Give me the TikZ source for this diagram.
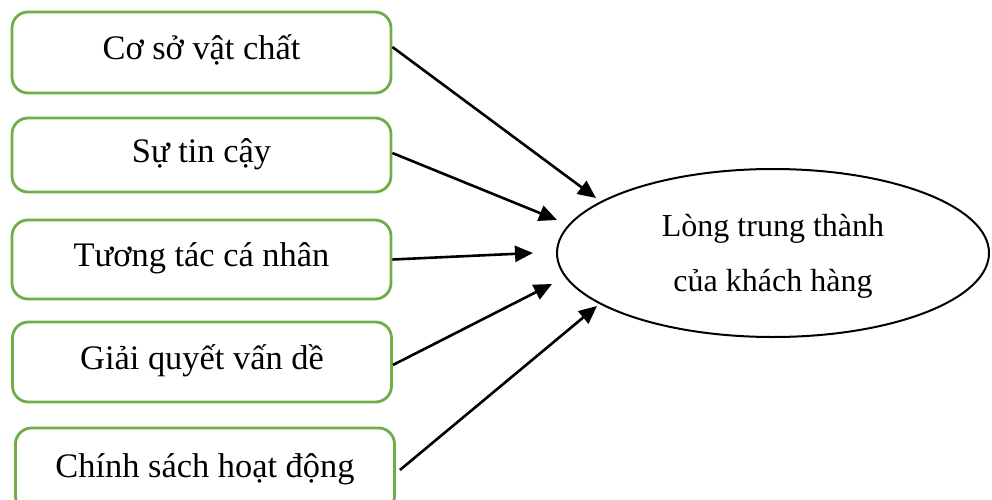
\documentclass[tikz,border=0pt]{standalone}
\usepackage{fontspec}
\setmainfont{Liberation Serif}
\usetikzlibrary{arrows.meta,shapes.geometric}
\definecolor{boxgreen}{RGB}{112,173,71}
\begin{document}
\begin{tikzpicture}[x=0.5pt,y=-0.5pt,
  factor/.style={draw=boxgreen,line width=1.4pt,rounded corners=8pt,
    rectangle,inner sep=0pt,minimum width=189.5pt,
    text height=11.5pt,text depth=4.5pt,
    font=\fontsize{17.2}{20}\selectfont},
  link/.style={line width=1.3pt,-{Triangle[length=9pt,width=8pt]}}]
\useasboundingbox (0,0) rectangle (992,499);
\clip (0,0) rectangle (992,499);
% factor boxes
\node[factor,minimum height=40.5pt] (f1) at (201.5,52.5) {Cơ sở vật chất};
\node[factor,minimum height=37pt]   (f2) at (201.5,155)  {Sự tin cậy};
\node[factor,minimum height=39.5pt] (f3) at (201.5,259.5) {Tương tác cá nhân};
\node[factor,minimum height=40pt]   (f4) at (202,362)    {Giải quyết vấn dề};
\node[factor,minimum height=42pt]   (f5) at (205,470)    {Chính sách hoạt động};
% outcome
\node[draw,ellipse,line width=1pt,inner sep=0pt,
  minimum width=216pt,minimum height=84pt] (loy) at (773,253) {};
\node[align=center,font=\fontsize{16}{27.5}\selectfont] (lt) at (773,256)
  {Lòng trung thành\\của khách hàng};
% arrow tips, just short of the ellipse
\coordinate (e1) at (596,198);
\coordinate (e2) at (557,220);
\coordinate (e3) at (533,253);
\coordinate (e4) at (552,284);
\coordinate (e5) at (597,306);
\draw[link] ([yshift=2.75pt]f1.east) -- (e1);
\draw[link] ([yshift=1pt]f2.east) -- (e2);
\draw[link] (f3.east) -- (e3);
\draw[link] ([yshift=-1.5pt]f4.east) -- (e4);
\draw[link] ([xshift=2pt]f5.east) -- (e5);
\end{tikzpicture}
\end{document}
